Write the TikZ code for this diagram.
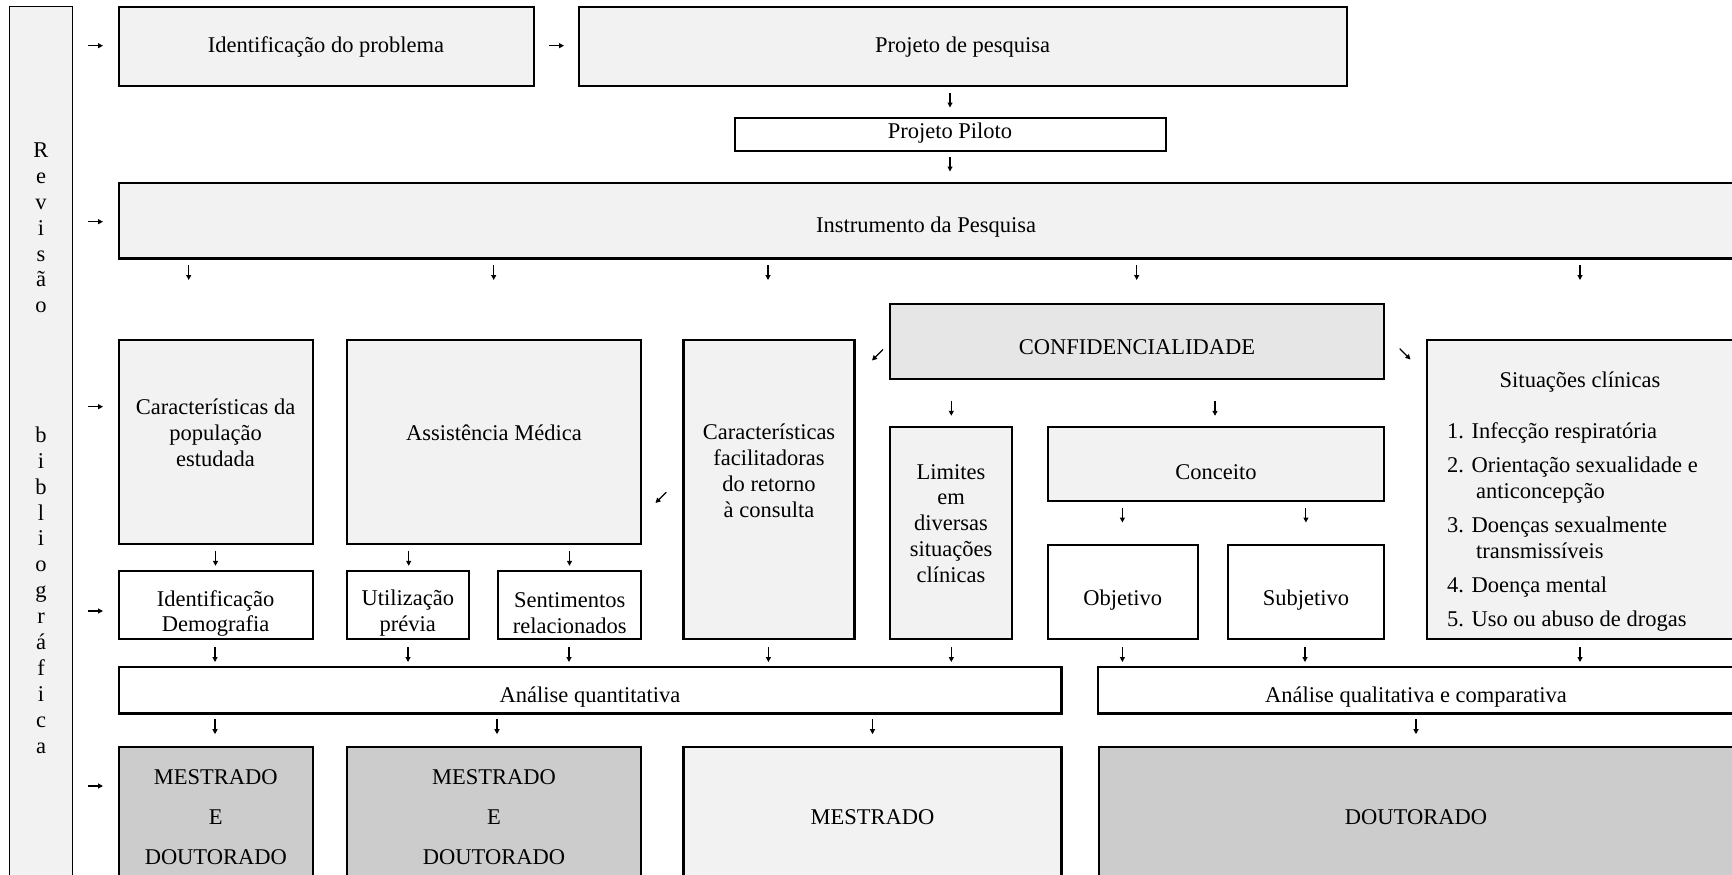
\documentclass[tikz,border=0pt]{standalone}
\usepackage{fontspec}
\setmainfont{Liberation Serif}
\usetikzlibrary{arrows.meta}
\definecolor{lg}{HTML}{F2F2F2}
\definecolor{mg}{HTML}{E6E6E6}
\definecolor{dg}{HTML}{CCCCCC}
\newcommand\mkbox[6]{\node[box,#6,minimum width={#4-#2},minimum height={#5-#3}] (#1) at ({(#2+#4)/2},{(#3+#5)/2}) {};}
\tikzset{
  box/.style={draw=black, line width=2.2pt, inner sep=0pt, outer sep=0pt, rectangle},
  light/.style={fill=lg},
  mid/.style={fill=mg},
  dark/.style={fill=dg},
  white/.style={fill=white},
  txt/.style={inner sep=0pt, font=\fontsize{22.5pt}{25.9pt}\selectfont, align=center},
  tipl/.style={line width=1.1pt, -{Triangle[length=5pt,width=5pt]}},
  arr/.style={inner sep=0pt, outer sep=0pt},
  rarr/.style={arr, minimum width=15pt, minimum height=7pt, path picture={\draw[tipl] (path picture bounding box.west) -- (path picture bounding box.east);}},
  darr/.style={arr, minimum width=7pt, minimum height=15pt, path picture={\draw[tipl] (path picture bounding box.north) -- (path picture bounding box.south);}},
  swarr/.style={arr, minimum size=11pt, path picture={\draw[tipl] (path picture bounding box.north east) -- (path picture bounding box.south west);}},
  searr/.style={arr, minimum size=11pt, path picture={\draw[tipl] (path picture bounding box.north west) -- (path picture bounding box.south east);}}
}
\begin{document}
\begin{tikzpicture}[x=1pt,y=-1pt]
\useasboundingbox[fill=white] (0,0) rectangle (1732,875);
% boxes
\mkbox{rev}{9.6}{6.7}{72.7}{890}{light, line width=1.3pt}
\mkbox{idp}{118.6}{6.7}{534}{86}{light}
\mkbox{pp}{578.7}{6.7}{1346.7}{86}{light}
\mkbox{piloto}{734.8}{118.3}{1165.6}{151}{white}
\mkbox{instr}{118.6}{183.3}{1740}{258.5}{light}
\mkbox{conf}{889.7}{304}{1384.2}{379.3}{mid}
\mkbox{carpop}{118.6}{340}{312.7}{544.3}{light}
\mkbox{assist}{346.7}{340}{641.3}{544.3}{light}
\mkbox{facil}{683.4}{340}{854.5}{639.3}{light}
\mkbox{limites}{889.7}{426.7}{1012}{639.3}{light}
\mkbox{conceito}{1047.7}{426.7}{1384.2}{500.7}{light}
\mkbox{objetivo}{1047.7}{545}{1197.8}{639.3}{white}
\mkbox{subjetivo}{1227.8}{545}{1384.2}{639.3}{white}
\mkbox{situ}{1426.6}{340}{1740}{639.3}{light}
\mkbox{iddemo}{118.6}{571}{312.7}{639.3}{white}
\mkbox{util}{346.7}{571}{468.8}{639.3}{white}
\mkbox{sent}{498.3}{571}{641.3}{639.3}{white}
\mkbox{aquant}{118.6}{667}{1061.5}{713.5}{white}
\mkbox{aqual}{1097.8}{667}{1740}{713.5}{white}
\mkbox{md1}{118.6}{747}{313}{890}{dark}
\mkbox{md2}{346.7}{747}{641}{890}{dark}
\mkbox{mest}{683.4}{747}{1061.5}{890}{light}
\mkbox{dout}{1099}{747}{1740}{890}{dark}
% texts
\node[txt] (t-rev) at (41,448) {R\\e\\v\\i\\s\\ã\\o\\\mbox{}\\\mbox{}\\\mbox{}\\\mbox{}\\b\\i\\b\\l\\i\\o\\g\\r\\á\\f\\i\\c\\a};
\node[txt] (t-idp) at (326,47) {Identificação do problema};
\node[txt] (t-pp) at (962.7,47) {Projeto de pesquisa};
\node[txt] (t-piloto) at (950,133) {Projeto Piloto};
\node[txt] (t-instr) at (926,227) {Instrumento da Pesquisa};
\node[txt] (t-conf) at (1137,347) {CONFIDENCIALIDADE};
\node[txt] (t-carpop) at (215.6,433) {Características da\\população\\estudada};
\node[txt] (t-assist) at (494,433) {Assistência Médica};
\node[txt] (t-facil) at (769,470.5) {Características\\facilitadoras\\do retorno\\à consulta};
\node[txt] (t-limites) at (951,523.5) {Limites\\em\\diversas\\situações\\clínicas};
\node[txt] (t-conceito) at (1216,472) {Conceito};
\node[txt] (t-objetivo) at (1122.7,600) {Objetivo};
\node[txt] (t-subjetivo) at (1306,600) {Subjetivo};
\node[txt] (t-situ) at (1580,382) {Situações clínicas};
\node[txt, align=left, anchor=west] (t-situlist) at (1447,527) {1. Infecção respiratória\\[8pt]2. Orientação sexualidade e\\\hspace*{29pt}anticoncepção\\[8pt]3. Doenças sexualmente\\\hspace*{29pt}transmissíveis\\[8pt]4. Doença mental\\[8pt]5. Uso ou abuso de drogas};
\node[txt] (t-iddemo) at (215.6,613.5) {Identificação\\Demografia};
\node[txt] (t-util) at (407.8,613.5) {Utilização\\prévia};
\node[txt] (t-sent) at (569.8,613.5) {Sentimentos\\relacionados};
\node[txt] (t-aquant) at (590,697) {Análise quantitativa};
\node[txt] (t-aqual) at (1416,697) {Análise qualitativa e comparativa};
\node[txt] (t-md1) at (215.8,816.7) {MESTRADO\\[14.1pt]E\\[14.1pt]DOUTORADO};
\node[txt] (t-md2) at (494,816.7) {MESTRADO\\[14.1pt]E\\[14.1pt]DOUTORADO};
\node[txt] (t-mest) at (872.5,816.7) {MESTRADO};
\node[txt] (t-dout) at (1416,816.7) {DOUTORADO};
% right arrows
\node[rarr] (r1) at (95.5,45.7) {};
\node[rarr] (r2) at (95.5,221.7) {};
\node[rarr] (r3) at (95.5,406.7) {};
\node[rarr] (r4) at (95.5,611) {};
\node[rarr] (r5) at (95.5,786) {};
\node[rarr] (r6) at (556.5,45.7) {};
% down arrows
\node[darr] (d1) at (950,100) {};
\node[darr] (d2) at (950,164) {};
\node[darr] (d3) at (188.7,272.5) {};
\node[darr] (d4) at (493.7,272.5) {};
\node[darr] (d5) at (768,272.5) {};
\node[darr] (d6) at (1136.7,272.5) {};
\node[darr] (d7) at (1580,272.5) {};
\node[darr] (d8) at (951.3,408.3) {};
\node[darr] (d9) at (1215,408.3) {};
\node[darr] (d10) at (215.5,558.3) {};
\node[darr] (d11) at (408.7,558.3) {};
\node[darr] (d12) at (569.5,558.3) {};
\node[darr] (d13) at (1122.4,515) {};
\node[darr] (d14) at (1305.9,515) {};
\node[darr] (d15) at (215,654.5) {};
\node[darr] (d16) at (408,654.5) {};
\node[darr] (d17) at (569,654.5) {};
\node[darr] (d18) at (768.4,654.5) {};
\node[darr] (d19) at (951.3,654.5) {};
\node[darr] (d20) at (1122.4,654.5) {};
\node[darr] (d21) at (1305,654.5) {};
\node[darr] (d22) at (1580,654.5) {};
\node[darr] (d23) at (215,726.7) {};
\node[darr] (d24) at (497,726.7) {};
\node[darr] (d25) at (872.5,726.7) {};
\node[darr] (d26) at (1416,726.7) {};
% diagonal arrows
\node[swarr] (s1) at (877.5,355) {};
\node[searr] (s2) at (1405,354) {};
\node[swarr] (s3) at (661,497.5) {};
\end{tikzpicture}
\end{document}
